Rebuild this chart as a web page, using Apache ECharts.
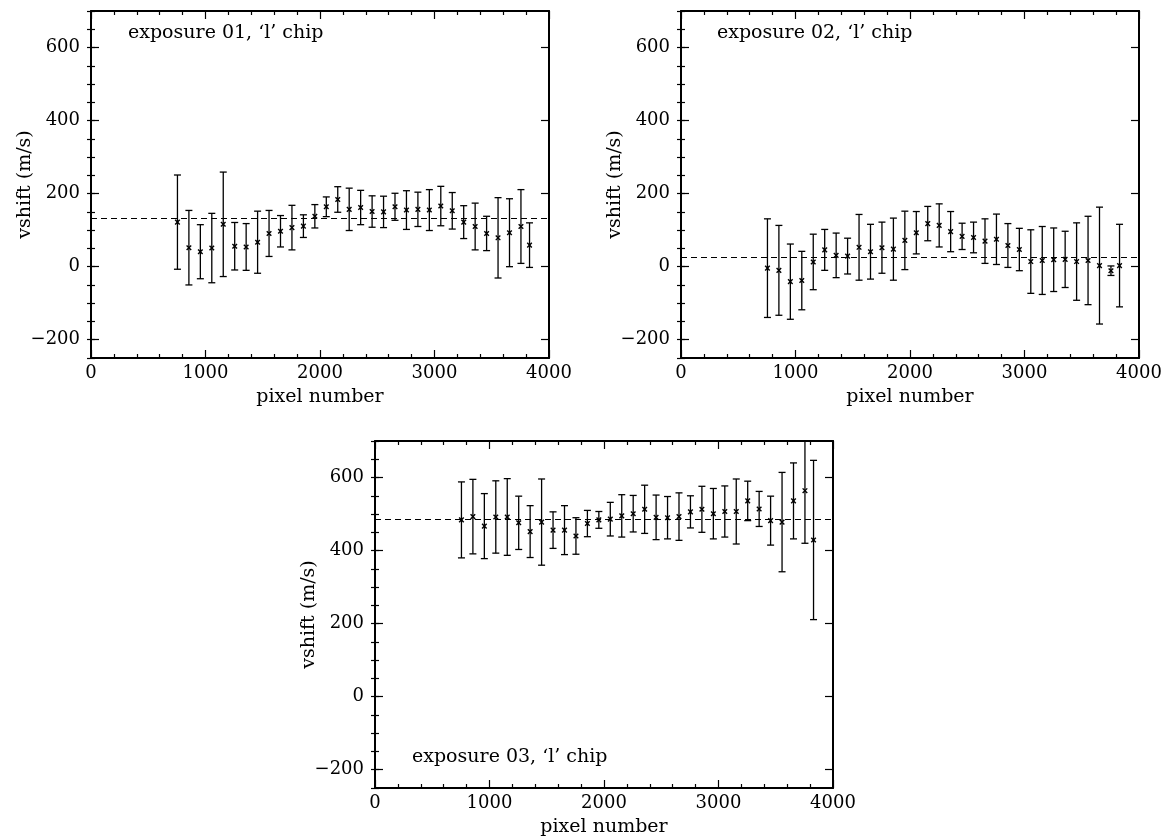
<!DOCTYPE html>
<html>
<head>
<meta charset="utf-8">
<script src="https://cdn.jsdelivr.net/npm/echarts@6/dist/echarts.min.js"></script>
<style>
html,body{margin:0;padding:0;background:#fff;}
#chart{width:1171px;height:838px;}
</style>
</head>
<body>
<div id="chart"></div>
<script>
// pixel positions of the measurements (shared by all exposures)
const pixels = [755, 855, 955, 1055, 1155, 1255, 1355, 1455, 1555, 1655, 1755, 1855, 1955, 2055, 2155, 2255,
                2355, 2455, 2555, 2655, 2755, 2855, 2955, 3055, 3155, 3255, 3355, 3455, 3555, 3655, 3755, 3830];

// exposure 01
const exp1Val = [122, 52, 41, 51, 116, 56, 54, 67, 91, 97, 107, 111, 138, 164, 184, 157,
                 162, 151, 150, 164, 155, 157, 155, 166, 153, 122, 110, 91, 79, 93, 110, 59];
const exp1Err = [129, 102, 74, 95, 143, 65, 64, 85, 63, 43, 61, 31, 32, 27, 35, 58,
                 47, 43, 43, 37, 53, 47, 56, 54, 50, 45, 64, 47, 110, 93, 101, 61];
// exposure 02
const exp2Val = [-4, -10, -41, -38, 13, 46, 31, 29, 53, 41, 52, 48, 72, 93, 118, 113,
                 96, 83, 80, 70, 75, 58, 47, 14, 17, 19, 20, 14, 17, 3, -11, 3];
const exp2Err = [135, 123, 103, 80, 76, 56, 61, 49, 90, 75, 70, 85, 80, 58, 47, 59,
                 55, 36, 42, 61, 69, 60, 58, 87, 93, 87, 77, 106, 121, 160, 13, 113];
// exposure 03
const exp3Val = [484, 493, 467, 492, 492, 476, 452, 478, 456, 456, 440, 474, 484, 486, 495, 501,
                 513, 491, 490, 493, 506, 513, 501, 507, 507, 536, 514, 482, 478, 536, 564, 429];
const exp3Err = [104, 102, 89, 99, 105, 73, 71, 118, 50, 67, 50, 36, 23, 46, 58, 50,
                 66, 61, 58, 65, 44, 63, 69, 70, 89, 54, 48, 67, 136, 104, 144, 218];

// mean (dashed) levels
const meanLevels = [133, 27, 487];
const labels = ["exposure 01, \u2018l\u2019 chip", "exposure 02, \u2018l\u2019 chip", "exposure 03, \u2018l\u2019 chip"];

const yMajor = [-200, 0, 200, 400, 600];
const FONT = 'DejaVu Serif';

const panels = [
  {val: exp1Val, err: exp1Err, grid: {left: 91, top: 11, width: 458, height: 347}, title: {left: 128, top: 24}},
  {val: exp2Val, err: exp2Err, grid: {left: 681, top: 11, width: 458, height: 347}, title: {left: 717, top: 24}},
  {val: exp3Val, err: exp3Err, grid: {left: 375, top: 441, width: 458, height: 347}, title: {left: 412, top: 748}}
];

function renderItem(params, api) {
  const x = api.value(0), v = api.value(1), e = api.value(2);
  const c = api.coord([x, v]);
  const t = api.coord([x, v + e]);
  const b = api.coord([x, v - e]);
  const cap = 3.5, m = 2.3;
  const st = {stroke: '#000', lineWidth: 1.3};
  return {
    type: 'group',
    children: [
      {type: 'line', shape: {x1: c[0], y1: t[1], x2: c[0], y2: b[1]}, style: st},
      {type: 'line', shape: {x1: c[0] - cap, y1: t[1], x2: c[0] + cap, y2: t[1]}, style: st},
      {type: 'line', shape: {x1: c[0] - cap, y1: b[1], x2: c[0] + cap, y2: b[1]}, style: st},
      {type: 'line', shape: {x1: c[0] - m, y1: c[1] - m, x2: c[0] + m, y2: c[1] + m}, style: {stroke: '#000', lineWidth: 1.4}},
      {type: 'line', shape: {x1: c[0] - m, y1: c[1] + m, x2: c[0] + m, y2: c[1] - m}, style: {stroke: '#000', lineWidth: 1.4}}
    ]
  };
}

const grids = [], xAxes = [], yAxes = [], series = [], titles = [];
const lineStyle = {color: '#000', width: 2};
const labelStyle = {color: '#000', fontFamily: FONT, fontSize: 18};

panels.forEach((p, i) => {
  grids.push(Object.assign({containLabel: false}, p.grid));
  const xBase = {
    gridIndex: i, type: 'value', min: 0, max: 4000, interval: 1000,
    axisLine: {show: true, onZero: false, lineStyle: lineStyle},
    axisTick: {show: true, inside: true, length: 8, lineStyle: {color: '#000', width: 1.2}},
    minorTick: {show: true, splitNumber: 5, length: 4, lineStyle: {color: '#000', width: 1.2}},
    splitLine: {show: false}, minorSplitLine: {show: false}
  };
  xAxes.push(Object.assign({}, xBase, {
    position: 'bottom',
    axisLabel: Object.assign({show: true, margin: 6, formatter: v => String(v)}, labelStyle),
    name: 'pixel number', nameLocation: 'middle', nameGap: 30, nameMoveOverlap: false,
    nameTextStyle: {color: '#000', fontFamily: FONT, fontSize: 19}
  }));
  xAxes.push(Object.assign({}, xBase, {position: 'top', axisLabel: {show: false}}));

  const yBase = {
    gridIndex: i, type: 'value', min: -250, max: 700, interval: 50,
    splitLine: {show: false}, offset: 0
  };
  const yStart = yAxes.length;
  // left major (labels)
  yAxes.push(Object.assign({}, yBase, {
    position: 'left',
    axisLine: {show: true, onZero: false, lineStyle: lineStyle},
    axisTick: {show: true, inside: true, length: 8, customValues: yMajor, lineStyle: {color: '#000', width: 1.2}},
    axisLabel: Object.assign({show: true, margin: 11, customValues: yMajor,
      formatter: v => v < 0 ? '\u2212' + Math.abs(v) : String(v)}, labelStyle),
    name: 'vshift (m/s)', nameLocation: 'middle', nameGap: 56, nameRotate: 90, nameMoveOverlap: false,
    nameTextStyle: {color: '#000', fontFamily: FONT, fontSize: 19}
  }));
  // left minor
  yAxes.push(Object.assign({}, yBase, {
    position: 'left', axisLine: {show: false},
    axisTick: {show: true, inside: true, length: 4, lineStyle: {color: '#000', width: 1.2}},
    axisLabel: {show: false}
  }));
  // right major
  yAxes.push(Object.assign({}, yBase, {
    position: 'right',
    axisLine: {show: true, onZero: false, lineStyle: lineStyle},
    axisTick: {show: true, inside: true, length: 8, customValues: yMajor, lineStyle: {color: '#000', width: 1.2}},
    axisLabel: {show: false}
  }));
  // right minor
  yAxes.push(Object.assign({}, yBase, {
    position: 'right', axisLine: {show: false},
    axisTick: {show: true, inside: true, length: 4, lineStyle: {color: '#000', width: 1.2}},
    axisLabel: {show: false}
  }));

  const data = pixels.map((x, k) => [x, p.val[k], p.err[k]]);
  series.push({
    type: 'custom', xAxisIndex: i * 2, yAxisIndex: yStart, clip: true,
    renderItem: renderItem, data: data, silent: true, z: 3,
    markLine: {
      silent: true, symbol: ['none', 'none'], label: {show: false},
      lineStyle: {color: '#000', type: [6, 4], width: 1.1},
      data: [{yAxis: meanLevels[i]}]
    }
  });

  titles.push({
    text: labels[i], left: p.title.left, top: p.title.top, padding: 0,
    textStyle: {color: '#000', fontFamily: FONT, fontSize: 19, fontWeight: 'normal'}
  });
});

const chart = echarts.init(document.getElementById('chart'), null, {renderer: 'canvas'});
chart.setOption({
  animation: false,
  backgroundColor: '#fff',
  title: titles,
  grid: grids,
  xAxis: xAxes,
  yAxis: yAxes,
  series: series
});
</script>
</body>
</html>
